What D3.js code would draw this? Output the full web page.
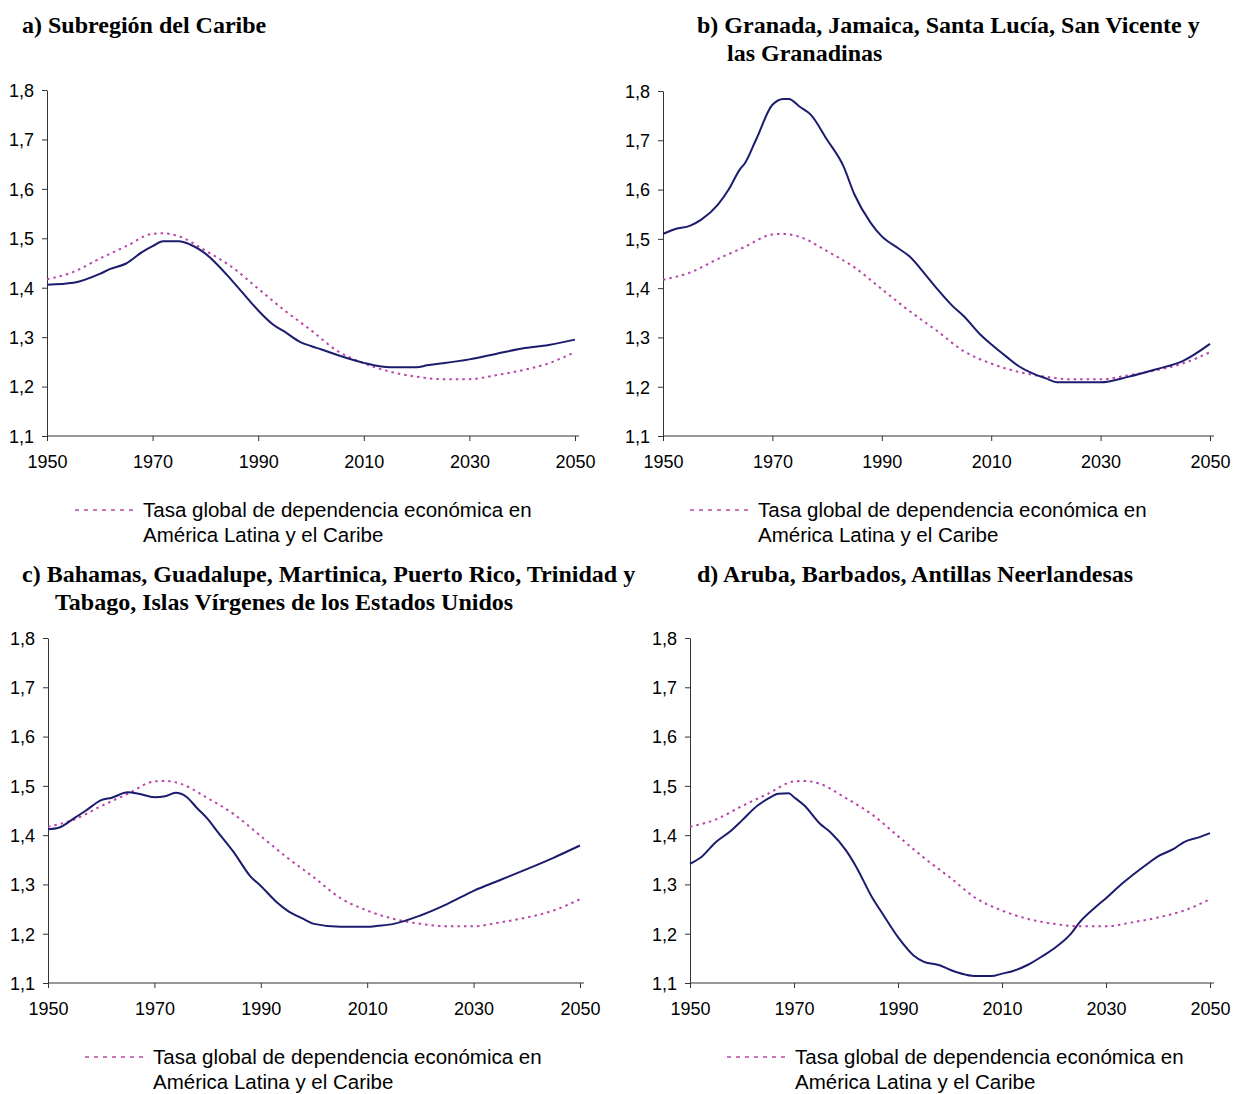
<!DOCTYPE html>
<html>
<head>
<meta charset="utf-8">
<script src="https://cdn.jsdelivr.net/npm/d3@7"></script>
<style>
  body { margin: 0; background: #fff; }
  svg { display: block; }
</style>
</head>
<body>
<script>
// Tasa global de dependencia economica en America Latina y el Caribe (dotted)
var latamYears = [1950, 1955, 1960, 1965, 1970, 1972, 1975, 1980, 1985, 1990, 1995, 2000, 2005, 2010, 2015, 2020, 2025, 2030, 2035, 2040, 2045, 2050];
var latamVals  = [1.417, 1.432, 1.459, 1.484, 1.509, 1.510, 1.504, 1.475, 1.442, 1.398, 1.354, 1.314, 1.272, 1.247, 1.230, 1.220, 1.215, 1.215, 1.223, 1.233, 1.247, 1.270];

// a) Subregion del Caribe
var yearsA = [1950, 1955, 1960, 1962, 1965, 1968, 1970, 1972, 1975, 1977, 1980, 1985, 1988, 1990, 1993, 1995, 1998, 2000, 2002, 2005, 2010, 2013, 2015, 2020, 2022, 2025, 2030, 2035, 2040, 2045, 2050];
var valsA  = [1.406, 1.410, 1.428, 1.438, 1.449, 1.472, 1.484, 1.494, 1.494, 1.488, 1.469, 1.415, 1.378, 1.354, 1.324, 1.311, 1.290, 1.282, 1.275, 1.264, 1.248, 1.241, 1.239, 1.239, 1.243, 1.247, 1.255, 1.266, 1.277, 1.284, 1.295];

// b) Granada, Jamaica, Santa Lucia, San Vicente y las Granadinas
var yearsB = [1950, 1952, 1955, 1957, 1960, 1962, 1964, 1965, 1967, 1970, 1972, 1973, 1975, 1977, 1980, 1983, 1985, 1988, 1990, 1993, 1995, 1998, 2000, 2003, 2005, 2008, 2010, 2013, 2015, 2018, 2020, 2022, 2025, 2030, 2035, 2040, 2045, 2050];
var valsB  = [1.510, 1.519, 1.527, 1.539, 1.569, 1.600, 1.640, 1.654, 1.701, 1.772, 1.784, 1.784, 1.768, 1.752, 1.701, 1.647, 1.590, 1.532, 1.505, 1.481, 1.465, 1.427, 1.400, 1.363, 1.343, 1.306, 1.286, 1.259, 1.242, 1.225, 1.217, 1.209, 1.209, 1.209, 1.220, 1.235, 1.252, 1.287];

// c) Bahamas, Guadalupe, Martinica, Puerto Rico, Trinidad y Tabago, Islas Virgenes
var yearsC = [1950, 1952, 1955, 1957, 1960, 1962, 1965, 1967, 1970, 1972, 1974, 1976, 1978, 1980, 1982, 1985, 1988, 1990, 1993, 1995, 1998, 2000, 2005, 2010, 2012, 2015, 2020, 2025, 2030, 2035, 2040, 2045, 2050];
var valsC  = [1.412, 1.415, 1.435, 1.449, 1.471, 1.476, 1.487, 1.484, 1.477, 1.479, 1.486, 1.478, 1.455, 1.433, 1.405, 1.364, 1.317, 1.297, 1.264, 1.247, 1.230, 1.220, 1.214, 1.214, 1.216, 1.220, 1.237, 1.260, 1.287, 1.309, 1.331, 1.354, 1.379];

// d) Aruba, Barbados, Antillas Neerlandesas
var yearsD = [1950, 1952, 1955, 1958, 1960, 1963, 1965, 1967, 1969, 1970, 1972, 1975, 1977, 1980, 1982, 1985, 1987, 1990, 1993, 1995, 1998, 2000, 2003, 2005, 2008, 2010, 2012, 2015, 2018, 2020, 2023, 2025, 2028, 2030, 2033, 2035, 2038, 2040, 2043, 2045, 2048, 2050];
var valsD  = [1.342, 1.354, 1.386, 1.410, 1.430, 1.460, 1.474, 1.484, 1.485, 1.477, 1.460, 1.423, 1.406, 1.369, 1.335, 1.274, 1.241, 1.193, 1.156, 1.143, 1.136, 1.127, 1.117, 1.114, 1.114, 1.119, 1.124, 1.137, 1.156, 1.170, 1.197, 1.224, 1.254, 1.272, 1.301, 1.318, 1.342, 1.357, 1.372, 1.386, 1.396, 1.404];

var xTicks = [1950, 1970, 1990, 2010, 2030, 2050];
var yTicks = [1.1, 1.2, 1.3, 1.4, 1.5, 1.6, 1.7, 1.8];

var titlesA = ["a) Subregión del Caribe"];
var titlesB = ["b) Granada, Jamaica, Santa Lucía, San Vicente y", "las Granadinas"];
var titlesC = ["c) Bahamas, Guadalupe, Martinica, Puerto Rico, Trinidad y", "Tabago, Islas Vírgenes de los Estados Unidos"];
var titlesD = ["d) Aruba, Barbados, Antillas Neerlandesas"];
var legendLines = ["Tasa global de dependencia económica en", "América Latina y el Caribe"];

var width = 1234;
var height = 1094;

var svg = d3.select("body")
            .append("svg")
            .attr("width", width)
            .attr("height", height);

var fmt = function(d) { return d3.format(".1f")(d).replace(".", ","); };

function panel(cfg) {
  var x = d3.scaleLinear().domain([1950, 2050]).range([cfg.x0, cfg.x1]);
  var y = d3.scaleLinear().domain([1.1, 1.8]).range([cfg.y1, cfg.y0]);

  // title
  var t = svg.append("text")
     .attr("font-family", "'Liberation Serif', 'Times New Roman', serif")
     .attr("font-weight", "bold")
     .attr("font-size", "24px")
     .attr("fill", "#000");
  cfg.titles.forEach(function(s, i) {
    t.append("tspan")
     .attr("x", i == 0 ? cfg.tx : cfg.tx2)
     .attr("y", cfg.ty + i * 28)
     .text(s);
  });

  // axes
  var gx = svg.append("g")
     .attr("transform", "translate(0," + cfg.y1 + ")")
     .call(d3.axisBottom(x).tickValues(xTicks).tickFormat(d3.format("d")).tickSize(5).tickSizeOuter(0));
  gx.select(".domain").attr("d", "M" + cfg.x0 + ",0H" + (cfg.x1 + 4));
  var gy = svg.append("g")
     .attr("transform", "translate(" + cfg.x0 + ",0)")
     .call(d3.axisLeft(y).tickValues(yTicks).tickFormat(fmt).tickSize(5).tickSizeOuter(0));
  [gx, gy].forEach(function(g) {
    g.selectAll("text")
     .attr("font-family", "'Liberation Sans', Arial, sans-serif")
     .attr("font-size", "18px")
     .attr("fill", "#000");
    g.selectAll("line, path").attr("stroke", "#333");
  });
  gx.selectAll("text").attr("y", 19).attr("dy", "0.71em");
  gy.selectAll("text").attr("x", -13).attr("dy", "0.35em");

  var line = d3.line()
     .x(function(d) { return x(d[0]); })
     .y(function(d) { return y(d[1]); })
     .curve(d3.curveMonotoneX);

  svg.append("path")
     .datum(d3.zip(latamYears, latamVals))
     .attr("d", line)
     .attr("fill", "none")
     .attr("stroke", "#bb45ab")
     .attr("stroke-width", 2)
     .attr("stroke-dasharray", "2.5,4");

  svg.append("path")
     .datum(d3.zip(cfg.years, cfg.vals))
     .attr("d", line)
     .attr("fill", "none")
     .attr("stroke", "#1c1c6e")
     .attr("stroke-width", 2);

  // legend
  svg.append("line")
     .attr("x1", cfg.lx).attr("x2", cfg.lx + 62)
     .attr("y1", cfg.ly).attr("y2", cfg.ly)
     .attr("stroke", "#bb45ab")
     .attr("stroke-width", 1.5)
     .attr("stroke-dasharray", "4,5");
  legendLines.forEach(function(s, i) {
    svg.append("text")
       .attr("x", cfg.lx + 68)
       .attr("y", cfg.ly + 7 + i * 25)
       .attr("font-family", "'Liberation Sans', Arial, sans-serif")
       .attr("font-size", "20.5px")
       .attr("fill", "#000")
       .text(s);
  });
}

panel({ x0: 47, x1: 575, y0: 90, y1: 436, years: yearsA, vals: valsA, titles: titlesA, tx: 22, tx2: 22, ty: 33, lx: 75, ly: 510 });
panel({ x0: 663, x1: 1210, y0: 91, y1: 436, years: yearsB, vals: valsB, titles: titlesB, tx: 697, tx2: 727, ty: 33, lx: 690, ly: 510 });
panel({ x0: 48, x1: 580, y0: 638, y1: 983, years: yearsC, vals: valsC, titles: titlesC, tx: 22, tx2: 55, ty: 582, lx: 85, ly: 1057 });
panel({ x0: 690, x1: 1210, y0: 638, y1: 983, years: yearsD, vals: valsD, titles: titlesD, tx: 697, tx2: 697, ty: 582, lx: 727, ly: 1057 });
</script>
</body>
</html>
